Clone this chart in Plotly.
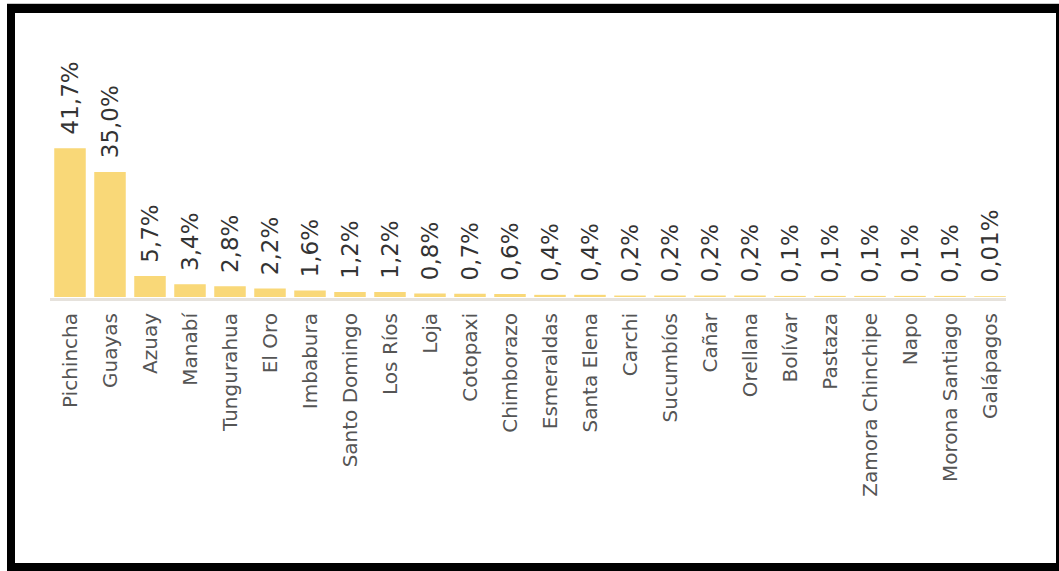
import plotly.graph_objects as go

provinces = ["Pichincha", "Guayas", "Azuay", "Manabí", "Tungurahua", "El Oro", "Imbabura",
             "Santo Domingo", "Los Ríos", "Loja", "Cotopaxi", "Chimborazo", "Esmeraldas",
             "Santa Elena", "Carchi", "Sucumbíos", "Cañar", "Orellana", "Bolívar", "Pastaza",
             "Zamora Chinchipe", "Napo", "Morona Santiago", "Galápagos"]
shares = [41.7, 35.0, 5.7, 3.4, 2.8, 2.2, 1.6, 1.2, 1.2, 0.8, 0.7, 0.6, 0.4, 0.4,
          0.2, 0.2, 0.2, 0.2, 0.1, 0.1, 0.1, 0.1, 0.1, 0.01]


def fmt(v):
    d = 2 if v < 0.1 else 1
    return f"{v:.{d}f}".replace(".", ",") + "%"


labels = [fmt(v) for v in shares]

W, H = 1059, 571
ML, MR, MT, MB = 50, 49, 20, 274
PW, PH = W - ML - MR, H - MT - MB

FONT = "DejaVu Sans"
BAR = "#F9D878"

fig = go.Figure()
fig.add_trace(go.Bar(
    x=provinces, y=shares,
    marker=dict(color=BAR, line=dict(width=1.5, color=BAR)),
    hoverinfo="skip",
))

for p, v, t in zip(provinces, shares, labels):
    fig.add_annotation(
        x=p, y=v, text=t, textangle=-90, showarrow=False,
        xanchor="center", yanchor="bottom", yshift=12,
        font=dict(family=FONT, size=23, color="#333333"),
    )


def px(x):
    return (x - ML) / PW


def py(y):
    return (H - MB - y) / PH


# baseline slightly below the bars
fig.add_shape(type="line", xref="paper", yref="paper",
              x0=0, x1=px(1006), y0=py(299.5), y1=py(299.5),
              line=dict(color="#E6E2DC", width=3), layer="below")

frame = [
    (7, 3, 1059, 4, "#c8c8c8"),
    (7, 4, 1059, 13, "black"),
    (7, 4, 15, 571, "black"),
    (1056, 4, 1059, 571, "black"),
    (7, 563, 1059, 571, "black"),
]
for x0, y0, x1, y1, col in frame:
    fig.add_shape(type="rect", xref="paper", yref="paper",
                  x0=px(x0), x1=px(x1), y0=py(y1), y1=py(y0),
                  fillcolor=col, line=dict(width=0), layer="above")

fig.update_layout(
    width=W, height=H,
    margin=dict(l=ML, r=MR, t=MT, b=MB, pad=0),
    paper_bgcolor="white", plot_bgcolor="white",
    bargap=0.25, showlegend=False,
    font=dict(family=FONT),
)
fig.update_xaxes(
    tickangle=-90, showgrid=False, zeroline=False, showline=False,
    ticks="", ticklen=0, ticklabelstandoff=11,
    tickfont=dict(family=FONT, size=20, color="#555555"),
)
fig.update_yaxes(range=[0, 78], visible=False, showgrid=False, zeroline=False)

fig.write_html("out.html", config=dict(displayModeBar=False, responsive=False))
